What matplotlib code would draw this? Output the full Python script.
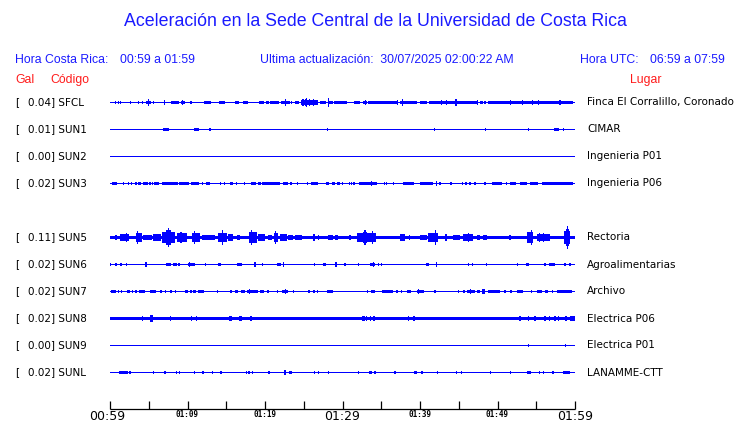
import math
import matplotlib
matplotlib.use('Agg')
import matplotlib.pyplot as plt

# ---------------- data ----------------
codes = ['SFCL', 'SUN1', 'SUN2', 'SUN3', 'SUN5', 'SUN6', 'SUN7', 'SUN8', 'SUN9', 'SUNL']
gal = ['0.04', '0.01', '0.00', '0.02', '0.11', '0.02', '0.02', '0.02', '0.00', '0.02']
places = ['Finca El Corralillo, Coronado', 'CIMAR', 'Ingenieria P01', 'Ingenieria P06',
          'Rectoria', 'Agroalimentarias', 'Archivo', 'Electrica P06', 'Electrica P01',
          'LANAMME-CTT']
# background (noise) half-amplitude of each trace, display units
noise = [0.5, 0.5, 0.5, 0.5, 1.5, 0.5, 0.5, 1.5, 0.5, 0.5]

# events: (start minute, end minute, half amplitude) minutes after 00:59
sfcl_events = [
    (0.74, 0.74, 1.7), (1.07, 1.07, 1.3), (1.38, 1.38, 1.3), (2.67, 2.67, 1.0), (3.65, 3.65, 1.7),
    (4.17, 4.17, 1.7), (4.65, 5.29, 1.5), (4.94, 4.94, 3.0), (5.59, 5.59, 1.0), (7.0, 7.0, 2.5),
    (7.91, 8.9, 1.5), (9.16, 9.68, 1.5), (9.33, 9.33, 2.5), (10.45, 10.45, 1.3), (12.17, 13.03, 1.5),
    (14.1, 14.84, 1.5), (16.13, 16.65, 1.5), (17.2, 17.85, 1.5), (19.23, 19.83, 1.5), (20.17, 20.52, 1.5),
    (20.68, 21.81, 1.5), (22.1, 23.23, 1.5), (22.7, 22.7, 3.0), (23.45, 23.45, 1.7), (23.87, 24.39, 1.5),
    (24.65, 26.88, 2.0), (24.9, 24.9, 3.0), (25.2, 25.2, 3.0), (25.4, 25.4, 4.0), (25.8, 25.8, 3.5),
    (26.2, 26.2, 3.0), (26.6, 26.6, 2.5), (27.1, 27.83, 1.5), (28.09, 28.74, 1.5), (28.2, 28.2, 4.0),
    (28.94, 30.58, 1.5), (31.48, 32.26, 1.5), (32.65, 33.16, 1.5), (33.0, 33.0, 2.0), (33.29, 37.03, 1.5),
    (37.1, 37.1, 2.5), (37.42, 39.6, 1.5), (37.8, 37.8, 3.0), (40.0, 40.9, 1.5), (41.16, 47.35, 1.5),
    (42.8, 42.8, 2.0), (43.45, 43.45, 2.0), (44.65, 44.65, 3.0), (47.4, 47.4, 2.0), (47.74, 48.13, 1.5),
    (48.39, 48.39, 1.0), (48.77, 59.74, 1.5), (51.7, 51.7, 2.0), (53.25, 53.25, 2.0), (54.5, 54.5, 2.0),
    (55.3, 55.3, 2.0), (56.77, 56.77, 1.7), (58.06, 58.06, 2.0), (59.35, 59.35, 1.7)]
sun1_events = [
    (6.88, 7.61, 1.3), (10.88, 11.48, 1.3), (12.8, 13.0, 1.5), (28.04, 28.04, 0.8), (41.85, 41.85, 0.8),
    (48.5, 48.5, 0.7), (53.97, 53.97, 0.7), (57.3, 57.94, 1.3), (58.5, 58.5, 0.7)]
sun2_events = []
sun3_events = [
    (0.22, 0.86, 1.3), (1.72, 1.72, 1.5), (2.37, 2.37, 1.5), (2.8, 2.8, 1.2), (3.35, 3.35, 1.5),
    (3.57, 4.0, 1.3), (4.3, 4.94, 1.3), (4.45, 4.45, 1.7), (5.16, 5.16, 1.5), (5.46, 5.46, 1.5),
    (5.72, 6.32, 1.3), (6.67, 8.81, 1.5), (8.9, 10.2, 1.3), (10.45, 11.48, 1.3), (11.9, 11.9, 1.5),
    (12.34, 12.9, 1.3), (14.3, 14.3, 1.3), (14.8, 14.8, 1.3), (15.48, 15.9, 1.3), (16.34, 16.34, 1.5),
    (17.4, 17.4, 0.8), (18.15, 18.8, 1.3), (19.05, 19.48, 1.3), (19.66, 21.94, 1.5), (22.37, 23.0, 1.3),
    (23.35, 23.35, 1.5), (24.2, 24.2, 0.8), (25.46, 25.46, 1.5), (25.94, 26.88, 1.3), (27.83, 28.26, 1.3),
    (28.6, 29.03, 1.3), (29.25, 29.68, 1.3), (29.98, 29.98, 1.3), (30.88, 30.88, 1.3), (31.18, 31.18, 1.3),
    (31.48, 31.48, 1.3), (32.17, 34.41, 1.3), (33.76, 33.76, 2.0), (35.4, 35.4, 1.3), (35.7, 35.7, 1.3),
    (36.56, 36.56, 1.0), (37.85, 39.23, 1.3), (40.0, 41.72, 1.3), (42.15, 42.15, 2.0), (42.58, 42.58, 1.0),
    (44.0, 44.0, 1.0), (45.38, 45.59, 1.3), (45.94, 45.94, 1.3), (46.37, 46.58, 1.3), (47.0, 47.23, 1.3),
    (48.39, 48.39, 0.8), (49.25, 50.54, 1.3), (51.19, 51.19, 1.3), (51.6, 52.39, 1.3), (52.9, 53.77, 1.3),
    (54.19, 55.27, 1.3), (55.7, 59.78, 1.3)]
sun5_events = [
    (0.65, 0.86, 2.0), (1.29, 2.45, 3.0), (2.15, 2.15, 4.0), (3.31, 4.09, 4.0), (3.57, 3.57, 6.0),
    (4.3, 4.73, 2.5), (4.73, 5.38, 2.0), (5.59, 6.58, 3.0), (6.67, 8.39, 5.0), (7.2, 7.9, 7.0),
    (7.53, 7.53, 9.5), (8.6, 9.9, 4.0), (9.16, 9.16, 5.0), (10.62, 11.61, 4.0), (10.88, 10.88, 6.0),
    (11.83, 13.55, 2.0), (13.98, 15.05, 4.0), (14.5, 14.5, 7.0), (15.18, 15.9, 3.0), (16.34, 16.77, 2.0),
    (16.99, 17.42, 1.7), (17.94, 18.93, 5.0), (18.28, 18.28, 7.0), (19.14, 20.0, 3.0), (20.43, 20.86, 2.5),
    (21.2, 21.72, 4.0), (21.38, 21.38, 6.0), (21.94, 22.8, 3.0), (23.0, 23.65, 2.0), (23.87, 24.73, 2.0),
    (26.32, 26.32, 3.0), (26.88, 26.88, 2.0), (28.17, 28.82, 2.5), (29.03, 29.46, 2.0), (30.97, 30.97, 2.0),
    (31.83, 34.32, 4.0), (32.6, 33.2, 5.5), (32.9, 32.9, 7.0), (33.9, 33.9, 6.0), (35.7, 35.7, 1.7),
    (37.42, 38.06, 3.0), (38.62, 38.62, 2.0), (40.0, 40.95, 2.5), (41.08, 42.37, 4.0), (42.02, 42.02, 7.0),
    (43.23, 43.44, 3.0), (44.3, 45.16, 2.5), (45.59, 46.88, 3.5), (46.24, 46.24, 4.0), (47.31, 47.74, 2.5),
    (48.09, 48.6, 2.5), (51.61, 51.61, 2.0), (53.77, 54.62, 5.0), (54.41, 54.41, 7.0), (55.05, 56.77, 3.5),
    (55.4, 55.4, 4.5), (55.9, 55.9, 4.5), (58.58, 59.35, 6.0), (58.9, 59.2, 8.0), (59.06, 59.06, 11.0)]
sun6_events = [
    (0.0, 0.13, 1.3), (0.65, 0.86, 1.3), (1.29, 1.5, 1.3), (2.02, 2.24, 1.3), (4.52, 4.77, 2.5),
    (7.18, 7.87, 1.3), (8.13, 8.6, 1.3), (8.9, 8.9, 0.8), (10.11, 10.97, 1.5), (10.3, 10.3, 2.0),
    (12.34, 12.34, 1.3), (13.89, 14.32, 1.3), (16.34, 17.07, 1.3), (18.62, 18.8, 2.0), (19.66, 19.66, 1.0),
    (21.5, 22.06, 1.3), (22.37, 22.37, 2.5), (26.37, 26.37, 0.8), (27.53, 27.83, 1.3), (29.03, 29.25, 2.5),
    (30.32, 30.32, 1.0), (32.04, 32.04, 1.0), (33.55, 34.19, 1.3), (33.98, 33.98, 2.0), (34.54, 34.75, 1.3),
    (35.05, 35.05, 1.3), (40.77, 41.2, 1.3), (42.02, 42.15, 2.5), (46.24, 46.24, 0.8), (46.8, 46.8, 0.8),
    (48.6, 48.6, 0.7), (52.6, 52.6, 1.3), (53.68, 54.1, 1.3), (56.13, 56.13, 1.0), (56.69, 57.42, 1.3),
    (58.71, 58.71, 0.8), (59.35, 59.35, 1.0)]
sun7_events = [
    (0.13, 0.74, 1.3), (1.07, 1.07, 1.0), (1.5, 1.5, 1.0), (2.24, 2.58, 1.3), (2.88, 2.88, 1.0),
    (3.35, 3.35, 1.0), (3.78, 4.52, 1.3), (5.16, 5.9, 1.3), (6.58, 6.58, 1.0), (7.18, 7.18, 1.0),
    (7.87, 7.87, 1.5), (8.47, 8.47, 1.0), (9.68, 10.02, 1.3), (10.45, 10.45, 1.0), (10.75, 11.05, 1.3),
    (11.4, 12.17, 1.3), (13.89, 13.89, 1.3), (15.48, 15.7, 1.3), (16.13, 16.47, 1.3), (16.9, 17.42, 1.3),
    (17.63, 19.14, 1.5), (18.0, 18.0, 2.0), (19.35, 19.91, 1.3), (20.22, 20.52, 1.3), (21.59, 21.59, 1.0),
    (22.15, 23.0, 1.5), (22.6, 22.6, 2.5), (23.65, 23.65, 1.0), (25.5, 25.81, 1.3), (26.24, 26.45, 1.3),
    (26.8, 26.8, 1.0), (27.96, 28.82, 1.3), (33.25, 33.25, 1.0), (33.68, 34.19, 1.3), (35.05, 36.56, 1.3),
    (36.9, 37.2, 1.3), (37.63, 37.63, 1.0), (38.37, 38.8, 1.3), (39.57, 40.52, 1.5), (39.85, 39.85, 2.0),
    (41.94, 41.94, 1.0), (44.95, 44.95, 1.0), (45.5, 45.81, 1.3), (46.02, 47.1, 1.5), (46.5, 46.5, 2.0),
    (47.31, 47.74, 1.3), (47.96, 48.39, 2.0), (48.82, 50.32, 1.3), (50.97, 50.97, 1.0), (51.74, 51.74, 1.0),
    (52.47, 53.33, 1.3), (54.41, 54.41, 1.0), (55.05, 55.7, 1.3), (56.13, 56.56, 1.3), (56.99, 57.2, 1.3),
    (57.63, 59.57, 1.3)]
sun8_events = [
    (4.17, 4.17, 2.5), (5.2, 5.5, 3.0), (7.78, 7.78, 2.5), (10.54, 10.54, 2.5), (11.18, 11.18, 2.5),
    (13.98, 13.98, 1.7), (15.4, 15.7, 2.5), (16.65, 17.0, 2.5), (18.19, 18.19, 2.5), (19.14, 19.14, 1.7),
    (32.47, 32.9, 2.5), (33.12, 33.12, 2.5), (33.63, 33.63, 2.5), (34.06, 34.06, 2.0), (37.07, 37.07, 1.7),
    (38.5, 38.5, 2.5), (39.23, 39.23, 2.0), (52.9, 52.9, 2.5), (53.97, 53.97, 2.5), (54.84, 54.84, 2.0),
    (56.13, 56.13, 2.0), (56.69, 56.69, 2.0), (57.42, 57.42, 2.5), (57.85, 57.85, 2.0), (58.71, 58.92, 2.5),
    (59.35, 60.0, 2.0)]
sun9_events = [(53.97, 53.97, 0.8), (58.8, 58.8, 0.8)]
sunl_events = [
    (1.2, 2.28, 1.3), (2.58, 2.58, 0.8), (5.59, 5.59, 0.8), (7.0, 7.18, 1.3), (8.6, 8.6, 1.0),
    (8.9, 9.07, 1.0), (10.88, 10.88, 1.0), (11.91, 12.17, 1.3), (13.2, 13.2, 1.0), (14.32, 14.32, 1.0),
    (17.63, 17.63, 1.0), (17.94, 17.94, 1.0), (18.36, 18.36, 1.0), (20.43, 20.65, 1.3), (22.49, 22.67, 2.0),
    (23.1, 23.45, 1.3), (26.37, 26.37, 1.0), (26.88, 26.88, 1.0), (28.17, 28.3, 1.3), (32.04, 32.04, 1.0),
    (33.46, 33.76, 1.3), (34.19, 34.19, 1.0), (36.77, 36.77, 1.0), (39.23, 39.66, 1.3), (40.09, 40.34, 1.3),
    (42.24, 42.24, 1.0), (44.73, 44.73, 1.0), (45.38, 45.38, 1.0), (49.12, 49.12, 1.0), (51.7, 51.7, 1.0),
    (53.85, 54.28, 1.3), (55.4, 55.4, 1.0), (55.91, 55.91, 1.0), (56.99, 57.29, 1.3), (58.41, 59.35, 1.3)]
events = [sfcl_events, sun1_events, sun2_events, sun3_events, sun5_events,
          sun6_events, sun7_events, sun8_events, sun9_events, sunl_events]

tick_minutes = [0, 5, 10, 15, 20, 25, 30, 35, 40, 45, 50, 55, 60]
major_labels = {0: '00:59', 30: '01:29', 60: '01:59'}
minor_labels = {10: '01:09', 20: '01:19', 40: '01:39', 50: '01:49'}

# ---------------- layout ----------------
W, H = 740, 423
X0_PX, X1_PX = 110, 575          # trace span in pixels
ROW0_PX, ROW_PX = 102.5, 27     # first row centre, row spacing
rows = [0, 1, 2, 3, 5, 6, 7, 8, 9, 10]
PPM = (X1_PX - X0_PX) / 60.0
BLUE = '#0000ff'
TBLUE = '#1a1aff'
RED = '#ff1a1a'
LF = 7.5

fig = plt.figure(figsize=(W / 100, H / 100), dpi=100)
ax = fig.add_axes([0, 0, 1, 1])
ax.set_xlim(-X0_PX / PPM, (W - X0_PX) / PPM)
ax.set_ylim((H - ROW0_PX) / ROW_PX, -ROW0_PX / ROW_PX)
ax.set_axis_off()


def fx(px):
    return px / W


def fy(py):
    return 1 - py / H


def px_half(a):
    # half height in whole-pixel steps so the trace stays crisp
    return max(1.5, math.floor(a) + 0.5)


spike_w = 0.14
for r, base, evs in zip(rows, noise, events):
    lefts = [0.0]
    widths = [60.0]
    amps = [base]
    for t0, t1, a in evs:
        if t1 - t0 < spike_w:
            lefts.append((t0 + t1) / 2 - spike_w / 2)
            widths.append(spike_w)
        else:
            lefts.append(t0)
            widths.append(t1 - t0)
        amps.append(px_half(a))
    heights = [2 * a / ROW_PX for a in amps]
    bottoms = [r - a / ROW_PX for a in amps]
    ax.bar(lefts, heights, width=widths, bottom=bottoms, align='edge',
           color=BLUE, linewidth=0, antialiased=False)

# row labels
for r, c, g, p in zip(rows, codes, gal, places):
    y = r
    ax.text(-(X0_PX - 15) / PPM, y, '[', fontsize=LF, family='DejaVu Sans',
            va='center', ha='left', color='black')
    ax.text(-(X0_PX - 27.5) / PPM, y, f'{g}] {c}', fontsize=LF, family='DejaVu Sans',
            va='center', ha='left', color='black')
    ax.text((587 - X0_PX) / PPM, y, p, fontsize=LF, family='DejaVu Sans',
            va='center', ha='left', color='black')

# time axis
axis_y = (409 - ROW0_PX) / ROW_PX
tick_top = (401 - ROW0_PX) / ROW_PX
ax.plot([0, 60], [axis_y, axis_y], color='black', lw=0.9, solid_capstyle='butt')
for t in tick_minutes:
    ax.plot([t, t], [axis_y, tick_top], color='black', lw=0.9, solid_capstyle='butt')
lab_y = (416.5 - ROW0_PX) / ROW_PX
for t, s in major_labels.items():
    ax.text(t - (0.35 if t == 0 else 0), lab_y, s, fontsize=9, family='DejaVu Sans',
            ha='center', va='center')
for t, s in minor_labels.items():
    ax.text(t, (414.5 - ROW0_PX) / ROW_PX, s, fontsize=5.5, family='DejaVu Sans Mono',
            weight='bold', ha='center', va='center')

# header text
HF = 'Liberation Sans'
fig.text(fx(375), fy(22), 'Aceleración en la Sede Central de la Universidad de Costa Rica',
         fontsize=12.8, family=HF, color=TBLUE, ha='center', va='center')
fig.text(fx(15), fy(60), 'Hora Costa Rica:', fontsize=8.8, family=HF, color=TBLUE, va='center')
fig.text(fx(120), fy(60), '00:59 a 01:59', fontsize=8.8, family=HF, color=TBLUE, va='center')
fig.text(fx(260), fy(60), 'Ultima actualización:  30/07/2025 02:00:22 AM', fontsize=8.8,
         family=HF, color=TBLUE, va='center')
fig.text(fx(580), fy(60), 'Hora UTC:', fontsize=8.8, family=HF, color=TBLUE, va='center')
fig.text(fx(725), fy(60), '06:59 a 07:59', fontsize=8.8, family=HF, color=TBLUE,
         va='center', ha='right')
fig.text(fx(15), fy(80), 'Gal', fontsize=8.8, family=HF, color=RED, va='center')
fig.text(fx(50), fy(80), 'Código', fontsize=8.8, family=HF, color=RED, va='center')
fig.text(fx(646), fy(80), 'Lugar', fontsize=8.8, family=HF, color=RED, va='center', ha='center')

fig.savefig('out.png', dpi=100, facecolor='white')
